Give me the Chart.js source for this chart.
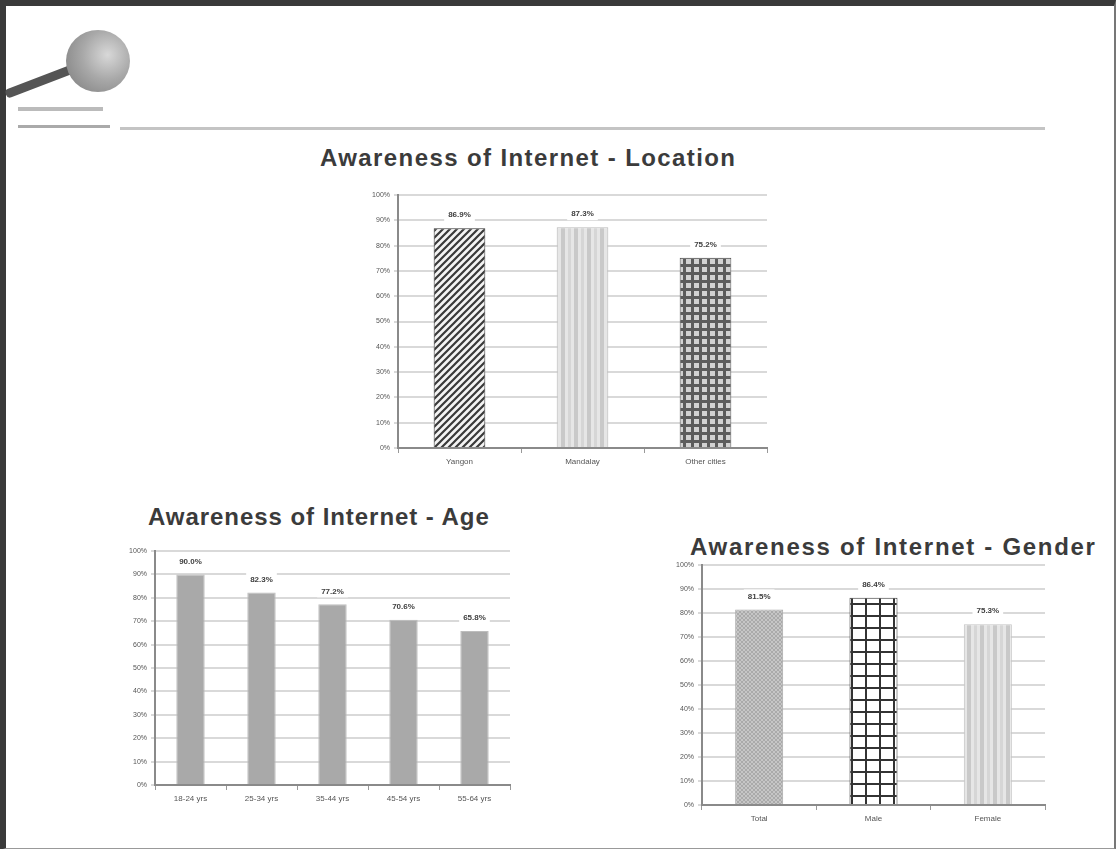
<!DOCTYPE html>
<html>
<head>
<meta charset="utf-8">
<script src="https://cdn.jsdelivr.net/npm/chart.js@4/dist/chart.umd.min.js"></script>
<style>
	html, body { margin: 0; padding: 0; background: #fff; }
	body { width: 1116px; height: 849px; position: relative; overflow: hidden; font-family: "Liberation Sans", Arial, sans-serif; }
	.frame { position: absolute; left: 0; top: 0; width: 1108px; height: 842px; border-top: 6px solid #3a3a3a; border-left: 6px solid #3a3a3a; border-right: 2px solid #777; border-bottom: 2px solid #999; }
	.rule { position: absolute; left: 120px; top: 127px; width: 925px; height: 3px; background: #c4c4c4; }
	.globe { position: absolute; left: 66px; top: 30px; width: 64px; height: 62px; border-radius: 50%; background: radial-gradient(circle at 65% 40%, #d8d8d8 0%, #a8a8a8 45%, #7a7a7a 100%); }
	.tail { position: absolute; left: 6px; top: 90px; width: 108px; height: 9px; background: #555; transform: rotate(-21deg); transform-origin: left center; border-radius: 4px; }
	.logo-text { position: absolute; left: 18px; top: 107px; width: 85px; height: 4px; background: #bbb; }
	.logo-text2 { position: absolute; left: 18px; top: 125px; width: 92px; height: 3px; background: #aaa; }
	.title { position: absolute; font-weight: bold; color: #3b3b3b; white-space: nowrap; font-size: 24px; }
	.box { position: absolute; }
</style>
</head>
<body>
<div class="frame"></div>
<div class="tail"></div>
<div class="globe"></div>
<div class="logo-text"></div>
<div class="logo-text2"></div>
<div class="rule"></div>

<div class="title" style="left:320px; top:144px; letter-spacing:1.4px;">Awareness of Internet - Location</div>
<div class="title" style="left:148px; top:503px; letter-spacing:0.95px;">Awareness of Internet - Age</div>
<div class="title" style="left:690px; top:533px; letter-spacing:1.7px;">Awareness of Internet - Gender</div>

<div class="box" style="left:340px; top:185px; width:440px; height:290px;"><canvas id="location-chart"></canvas></div>
<div class="box" style="left:115px; top:540px; width:400px; height:275px;"><canvas id="age-chart"></canvas></div>
<div class="box" style="left:655px; top:555px; width:400px; height:280px;"><canvas id="gender-chart"></canvas></div>

<script>
const yTicks = [0, 10, 20, 30, 40, 50, 60, 70, 80, 90, 100];

const locationLabels = ["Yangon", "Mandalay", "Other cities"];
const locationValues = [86.9, 87.3, 75.2];

const ageLabels = ["18-24 yrs", "25-34 yrs", "35-44 yrs", "45-54 yrs", "55-64 yrs"];
const ageValues = [90.0, 82.3, 77.2, 70.6, 65.8];

const genderLabels = ["Total", "Male", "Female"];
const genderValues = [81.5, 86.4, 75.3];

// small tiles for the hatch fills
function makePattern(w, h, draw) {
	const c = document.createElement("canvas");
	c.width = w;
	c.height = h;
	const g = c.getContext("2d");
	draw(g, w, h);
	return g.createPattern(c, "repeat");
}

const diagonal = makePattern(7, 7, (g, w, h) => {
	g.fillStyle = "#f4f4f4";
	g.fillRect(0, 0, w, h);
	g.strokeStyle = "#3a3a3a";
	g.lineWidth = 2.2;
	g.beginPath();
	g.moveTo(-1, h + 1); g.lineTo(w + 1, -1);
	g.moveTo(-1 - w, h + 1); g.lineTo(1, -1);
	g.moveTo(w - 1, h + 1); g.lineTo(2 * w + 1, -1);
	g.stroke();
});

const stripes = makePattern(13, 4, (g, w, h) => {
	g.fillStyle = "#e6e6e6";
	g.fillRect(0, 0, w, h);
	g.fillStyle = "#c9c9c9";
	g.fillRect(0, 0, 4, h);
	g.fillStyle = "#d6d6d6";
	g.fillRect(7, 0, 3, h);
});

const checker = makePattern(8, 8, (g, w, h) => {
	g.fillStyle = "#5c5c5c";
	g.fillRect(0, 0, w, h);
	g.fillStyle = "#d2d2d2";
	g.fillRect(2, 2, 5, 5);
});

const fineHatch = makePattern(4, 4, (g, w, h) => {
	g.fillStyle = "#c6c6c6";
	g.fillRect(0, 0, w, h);
	g.fillStyle = "#aaaaaa";
	g.fillRect(0, 0, 2, 2);
	g.fillRect(2, 2, 2, 2);
});

const bigGrid = makePattern(14, 12, (g, w, h) => {
	g.fillStyle = "#ffffff";
	g.fillRect(0, 0, w, h);
	g.fillStyle = "#333";
	g.fillRect(0, 0, 2, h);
	g.fillRect(0, 0, w, 2);
});

const valueLabels = {
	id: "valueLabels",
	afterDatasetsDraw(chart) {
		const ctx = chart.ctx;
		const meta = chart.getDatasetMeta(0);
		const data = chart.data.datasets[0].data;
		ctx.save();
		ctx.font = "bold 8px 'Liberation Sans'";
		ctx.textAlign = "center";
		ctx.textBaseline = "middle";
		meta.data.forEach((bar, i) => {
			const text = data[i].toFixed(1) + "%";
			const w = ctx.measureText(text).width + 8;
			ctx.fillStyle = "#fff";
			ctx.fillRect(bar.x - w / 2, bar.y - 20, w, 13);
			ctx.fillStyle = "#404040";
			ctx.fillText(text, bar.x, bar.y - 13);
		});
		ctx.restore();
	},
};

function makeChart(id, labels, values, fills, borders, opts) {
	return new Chart(document.getElementById(id), {
		type: "bar",
		data: {
			labels: labels,
			datasets: [
				{
					data: values,
					backgroundColor: fills,
					borderColor: borders,
					borderWidth: 1,
					barPercentage: opts.barPct,
					categoryPercentage: 1,
				},
			],
		},
		options: {
			responsive: true,
			maintainAspectRatio: false,
			animation: false,
			layout: { padding: { top: opts.padTop, right: opts.padRight, left: 0, bottom: 0 } },
			plugins: { legend: { display: false }, tooltip: { enabled: false } },
			scales: {
				x: {
					grid: { display: true, drawOnChartArea: false, offset: true, tickLength: 5, color: "#999" },
					border: { color: "#8a8a8a", width: 2 },
					ticks: { color: "#555", font: { size: 8, family: "Liberation Sans" }, padding: 4 },
					afterFit: (s) => { s.height = opts.xHeight; },
				},
				y: {
					min: 0,
					max: 100,
					afterBuildTicks: (s) => { s.ticks = yTicks.map((v) => ({ value: v })); },
					grid: { color: "#d9d9d9", lineWidth: 2, tickLength: 4 },
					border: { color: "#8a8a8a", width: 2 },
					ticks: { color: "#555", font: { size: 7, family: "Liberation Sans" }, padding: 4, callback: (v) => v + "%" },
					afterFit: (s) => { s.width = opts.yWidth; },
				},
			},
		},
		plugins: [valueLabels],
	});
}

makeChart("location-chart", locationLabels, locationValues,
	[diagonal, stripes, checker], ["#333", "#bbb", "#555"],
	{ barPct: 0.42, padTop: 10, padRight: 13, xHeight: 27, yWidth: 58 });

makeChart("age-chart", ageLabels, ageValues,
	"#a9a9a9", "#bdbdbd",
	{ barPct: 0.4, padTop: 11, padRight: 5, xHeight: 30, yWidth: 40 });

makeChart("gender-chart", genderLabels, genderValues,
	[fineHatch, bigGrid, stripes], ["#aaa", "#333", "#c4c4c4"],
	{ barPct: 0.42, padTop: 10, padRight: 10, xHeight: 30, yWidth: 47 });
</script>
</body>
</html>
